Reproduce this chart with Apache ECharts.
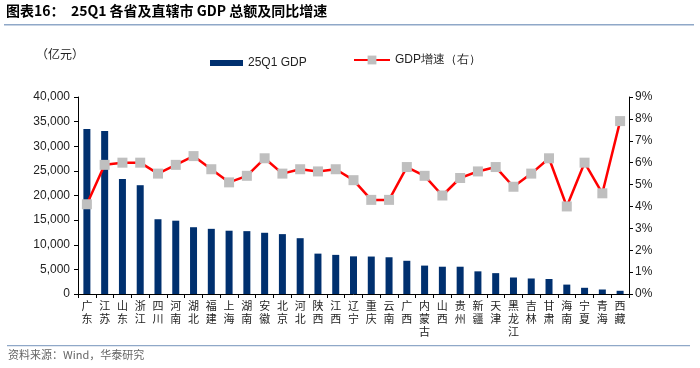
<!DOCTYPE html>
<html>
<head>
<meta charset="utf-8">
<script src="https://cdn.jsdelivr.net/npm/echarts@6/dist/echarts.min.js"></script>
<style>
html,body{margin:0;padding:0;background:#fff;}
#c{width:700px;height:368px;}
</style>
</head>
<body>
<div id="c"></div>
<script>
const provinces = ['广东','江苏','山东','浙江','四川','河南','湖北','福建','上海','湖南','安徽','北京','河北','陕西','江西','辽宁','重庆','云南','广西','内蒙古','山西','贵州','新疆','天津','黑龙江','吉林','甘肃','海南','宁夏','青海','西藏'];
const gdp = [33486,33100,23355,22090,15180,14885,13558,13232,12850,12764,12431,12158,11330,8199,7945,7644,7606,7458,6745,5768,5540,5540,4600,4235,3350,3150,3050,1909,1260,914,650];
const growth = [4.1,5.9,6.0,6.0,5.5,5.9,6.3,5.7,5.1,5.4,6.2,5.5,5.7,5.6,5.7,5.2,4.3,4.3,5.8,5.4,4.5,5.3,5.6,5.8,4.9,5.5,6.2,4.0,6.0,4.6,7.9];
const leftTicks = ['0','5,000','10,000','15,000','20,000','25,000','30,000','35,000','40,000'];
const rightTicks = ['0%','1%','2%','3%','4%','5%','6%','7%','8%','9%'];

const chart = echarts.init(document.getElementById('c'), null, {renderer:'canvas'});
const numFont = 'Arial, "Liberation Sans", sans-serif';
const cjk = '"Noto Sans CJK SC", sans-serif';
chart.setOption({
  animation:false,
  backgroundColor:'#fff',
  grid:{left:78,right:71,top:97,bottom:74,containLabel:false},
  graphic:[
    {type:'text',left:6,top:4,style:{text:'图表16：  25Q1 各省及直辖市 GDP 总额及同比增速',font:'bold 14px '+cjk,fill:'#000'}},
    {type:'rect',shape:{x:4,y:24,width:690,height:1.5},style:{fill:'#8FA8C8'}},
    {type:'text',left:36,top:48,style:{text:'（亿元）',font:'12px '+cjk,fill:'#222'}},
    {type:'rect',shape:{x:7,y:345,width:683,height:1.2},style:{fill:'#8FA8C8'}},
    {type:'text',left:8,top:349,style:{text:'资料来源：Wind，华泰研究',font:'11px '+cjk,fill:'#666'}}
  ],
  legend:[{
    left:205, top:52, itemWidth:33, itemHeight:6,
    textStyle:{fontFamily:numFont, fontSize:12, color:'#222'},
    data:[{name:'25Q1 GDP', icon:'rect'}]
  },{
    left:348, top:49, itemWidth:36, itemHeight:11,
    textStyle:{fontFamily:numFont, fontSize:12, color:'#222'},
    data:[{name:'GDP增速（右）'}]
  }],
  xAxis:{
    type:'category', data:provinces.map(p=>p.split('').join('\n')),
    axisLine:{lineStyle:{color:'#000',width:1}},
    axisTick:{show:true,length:4,lineStyle:{color:'#000'}},
    axisLabel:{interval:0,margin:5,fontFamily:cjk,fontSize:11,lineHeight:13,color:'#222'}
  },
  yAxis:[
    {type:'value',min:0,max:40000,interval:5000,
     axisLine:{show:true,lineStyle:{color:'#000'}},
     axisTick:{show:true,length:4,lineStyle:{color:'#000'}},
     splitLine:{show:false},
     axisLabel:{formatter:(v,i)=>leftTicks[Math.round(v/5000)],fontFamily:numFont,fontSize:12,color:'#222',margin:8}},
    {type:'value',min:0,max:9,interval:1,
     axisLine:{show:true,lineStyle:{color:'#000'}},
     axisTick:{show:true,length:4,lineStyle:{color:'#000'}},
     splitLine:{show:false},
     axisLabel:{formatter:(v)=>rightTicks[Math.round(v)],fontFamily:numFont,fontSize:12,color:'#222',margin:6}}
  ],
  series:[
    {name:'25Q1 GDP',type:'bar',data:gdp,barWidth:7,itemStyle:{color:'#00306F'},yAxisIndex:0},
    {name:'GDP增速（右）',type:'line',data:growth,yAxisIndex:1,
     lineStyle:{color:'#FF0000',width:2.5},itemStyle:{color:'#BFBFBF'},
     symbol:'rect',symbolSize:10,z:5}
  ]
});
</script>
</body>
</html>
